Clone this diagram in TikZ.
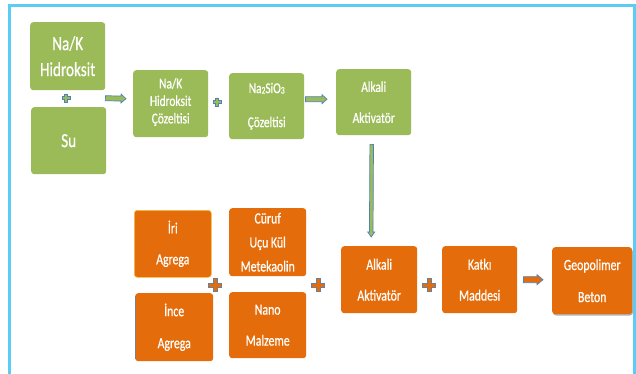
\documentclass[tikz,border=0pt]{standalone}
\usepackage{fontspec}
\setmainfont[FakeStretch=0.76,FakeBold=0.6]{Carlito}
\usetikzlibrary{calc}
\definecolor{frameblue}{HTML}{5BCCF6}
\definecolor{boxgreen}{HTML}{9BBB59}
\definecolor{boxorange}{HTML}{E46C0A}
\definecolor{arrowedge}{HTML}{4F81BD}
\definecolor{plusedge}{HTML}{6A7F99}
\tikzset{
  box/.style={rounded corners=3pt, text=white, align=center, anchor=north west, inner sep=0pt},
  gbox/.style={box, fill=boxgreen},
  obox/.style={box, fill=boxorange},
  arrowline/.style={draw=arrowedge, line width=0.7pt, line join=miter},
}
\newcommand{\blockarrow}[6]{% start, end, fill, shaft half, head half, head length
  \coordinate (ba) at #1; \coordinate (bb) at #2;
  \coordinate (bh) at ($(bb)!#6!(ba)$);
  \draw[arrowline, fill=#3]
    ($(ba)!#4!90:(bb)$) -- ($(bh)!#4!-90:(ba)$) -- ($(bh)!#5!-90:(ba)$) -- (bb)
    -- ($(bh)!#5!90:(ba)$) -- ($(bh)!#4!90:(ba)$) -- ($(ba)!#4!-90:(bb)$) -- cycle;
}
\newcommand{\plussign}[5]{% center, fill, edge, half length, half thickness
  \draw[draw=#3, fill=#2, line width=0.6pt, shift={#1}]
    (-#5,-#4) -- (#5,-#4) -- (#5,-#5) -- (#4,-#5) -- (#4,#5) -- (#5,#5) -- (#5,#4)
    -- (-#5,#4) -- (-#5,#5) -- (-#4,#5) -- (-#4,-#5) -- (-#5,-#5) -- cycle;
}
\begin{document}
\begin{tikzpicture}[x=1pt, y=-1pt]
\useasboundingbox (0,0) rectangle (636,374);
% frame
\draw[frameblue, line width=3pt] (9,380) -- (9,6) -- (634,6) -- (634,380);

% green row
\node[gbox, minimum width=75pt, minimum height=68pt, font=\fontsize{20}{26}\selectfont] (naoh) at (30,22) {Na/K\\Hidroksit};
\node[gbox, minimum width=75pt, minimum height=67pt, font=\fontsize{20}{26}\selectfont] (su) at (31,107) {Su};
\node[gbox, minimum width=75pt, minimum height=67pt, font=\fontsize{15}{17.5}\selectfont] (sol) at (133,70) {Na/K\\Hidroksit\\Çözeltisi\rule[-6pt]{0pt}{0pt}};
\node[gbox, minimum width=75pt, minimum height=66pt, font=\fontsize{15}{34}\selectfont] (silic) at (229,73) {Na{\fontsize{10}{10}\selectfont\raisebox{-0.5pt}{2}}SiO{\fontsize{10}{10}\selectfont\raisebox{-0.5pt}{3}}\\Çözeltisi};
\node[gbox, minimum width=75pt, minimum height=66pt, font=\fontsize{15}{31}\selectfont] (akg) at (336,69) {Alkali\\Aktivatör};

% orange row
\node[obox, draw={rgb,255:red,245;green,190;blue,60}, line width=0.6pt, minimum width=77pt, minimum height=67pt, font=\fontsize{15.5}{31}\selectfont] (iri) at (134,210) {İri\\Agrega};
\node[obox, minimum width=78pt, minimum height=68pt, font=\fontsize{15.5}{32}\selectfont] (ince) at (135,293) {İnce\\Agrega};
\draw[gray, line width=1pt] (135.5,296) -- (135.5,359);
\node[obox, minimum width=77pt, minimum height=68pt, font=\fontsize{15.5}{24}\selectfont] (curuf) at (229,208) {Cüruf\\Uçu Kül\\Metekaolin};
\node[obox, minimum width=77pt, minimum height=66pt, font=\fontsize{15.5}{31}\selectfont] (nano) at (229,292) {Nano\\Malzeme};
\node[obox, minimum width=76pt, minimum height=67pt, font=\fontsize{15.5}{31}\selectfont] (ako) at (341,246) {Alkali\\Aktivatör};
\node[obox, minimum width=75pt, minimum height=67pt, font=\fontsize{15.5}{31}\selectfont] (katki) at (442,246) {Katkı\\Maddesi};
\fill[gray!60, rounded corners=3pt] (553,249) rectangle (633,315.5);
\node[obox, minimum width=80pt, minimum height=67pt, font=\fontsize{15.5}{32}\selectfont] (geo) at (552,247) {Geopolimer\\Beton};

% plus signs
\plussign{(66,98)}{boxgreen}{arrowedge}{4}{1.3}
\plussign{(217,102)}{boxgreen}{arrowedge}{4}{1.3}
\plussign{(215,285)}{boxorange}{plusedge}{6.5}{2}
\plussign{(318,285)}{boxorange}{plusedge}{6.5}{2}
\plussign{(429,285)}{boxorange}{plusedge}{6.5}{2}

% arrows
\coordinate (a1s) at ($(naoh.east)+(0,42)$);
\blockarrow{(a1s)}{($(sol.west)+(-7,-5)$)}{boxgreen}{2.5pt}{4.5pt}{5pt}
\blockarrow{($(silic.east)+(1,-7)$)}{($(akg.west)+(-9,-3)$)}{boxgreen}{2.5pt}{4.5pt}{5pt}
\blockarrow{($(akg.south)+(-2,9)$)}{($(ako.north)+(-8,-9)$)}{boxgreen}{1.8pt}{3.5pt}{5pt}
\blockarrow{($(katki.east)+(6,0)$)}{($(geo.west)+(-9,-1)$)}{boxorange}{3pt}{5pt}{6pt}
\end{tikzpicture}
\end{document}
